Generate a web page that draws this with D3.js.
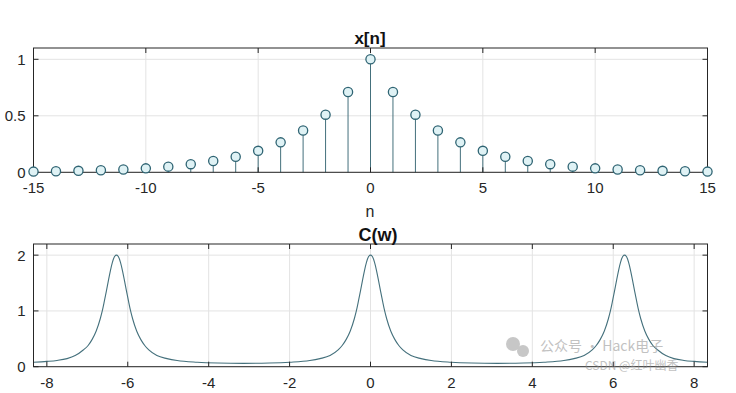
<!DOCTYPE html>
<html><head><meta charset="utf-8">
<script src="https://cdn.jsdelivr.net/npm/d3@7"></script>
<style>
html,body{margin:0;padding:0;background:#fff;}
svg{display:block;font-family:"Liberation Sans",Arial,Helvetica,sans-serif;}
</style></head>
<body>
<svg id="c" width="736" height="393"></svg>
<script>
// ---- data ----
const nValues = [-15,-14,-13,-12,-11,-10,-9,-8,-7,-6,-5,-4,-3,-2,-1,0,1,2,3,4,5,6,7,8,9,10,11,12,13,14,15];
const xValues = [0.006,0.009,0.013,0.018,0.025,0.035,0.05,0.072,0.10,0.137,0.19,0.265,0.37,0.51,0.71,1.0,0.71,0.51,0.37,0.265,0.19,0.137,0.10,0.072,0.05,0.035,0.025,0.018,0.013,0.009,0.006];
const topXTicks = [-15,-10,-5,0,5,10,15];
const topYTicks = [0,0.5,1];
const topYTickLabels = ["0","0.5","1"];

const wValues = [-8.33,-8.0,-7.75,-7.5,-7.3,-7.1,-6.98,-6.88,-6.78,-6.68,-6.63,-6.58,-6.53,-6.48,-6.43,-6.38,-6.33,-6.28,
  -6.23,-6.18,-6.13,-6.08,-6.03,-5.98,-5.93,-5.88,-5.78,-5.68,-5.58,-5.48,-5.28,-5.03,-4.78,-4.28,-3.78,-3.14,-2.5,-2.0,-1.5,-1.25,-1.0,-0.8,-0.7,-0.6,-0.5,-0.4,-0.35,-0.3,-0.25,-0.2,-0.15,-0.1,-0.05,0,
  0.05,0.1,0.15,0.2,0.25,0.3,0.35,0.4,0.5,0.6,0.7,0.8,1.0,1.25,1.5,2.0,2.5,3.14,3.78,4.28,4.78,5.03,5.28,5.48,5.58,5.68,5.78,5.88,5.93,5.98,6.03,6.08,6.13,6.18,6.23,6.28,
  6.33,6.38,6.43,6.48,6.53,6.58,6.63,6.68,6.78,6.88,6.98,7.1,7.3,7.5,7.75,8.0,8.33];
const cValues = [0.08,0.095,0.112,0.145,0.20,0.30,0.38,0.49,0.64,0.86,1.00,1.17,1.35,1.54,1.72,1.87,1.97,2.00,
  1.97,1.87,1.72,1.54,1.35,1.17,1.00,0.86,0.64,0.49,0.38,0.30,0.20,0.145,0.11,0.08,0.066,0.06,0.066,0.08,0.11,0.145,0.20,0.30,0.38,0.49,0.64,0.86,1.00,1.17,1.35,1.54,1.72,1.87,1.97,2.00,
  1.97,1.87,1.72,1.54,1.35,1.17,1.00,0.86,0.64,0.49,0.38,0.30,0.20,0.145,0.11,0.08,0.066,0.06,0.066,0.08,0.11,0.145,0.20,0.30,0.38,0.49,0.64,0.86,1.00,1.17,1.35,1.54,1.72,1.87,1.97,2.00,
  1.97,1.87,1.72,1.54,1.35,1.17,1.00,0.86,0.64,0.49,0.38,0.30,0.20,0.145,0.112,0.095,0.08];
const botXTicks = [-8,-6,-4,-2,0,2,4,6,8];
const botYTicks = [0,1,2];

const topTitle = "x[n]";
const topXLabel = "n";
const botTitle = "C(w)";
const watermark1 = "公众号 · Hack电子";
const watermark2 = "CSDN @红叶幽香";

// ---- drawing ----
const svg = d3.select("#c");
const L = 33.5, R = 707.5;
const axisColor = "#262626", gridColor = "#e3e3e3";
const lineColor = "#44707c";
const tickLen = 5;

function frame(g, x, y, xTicks, yTicks, top, bottom) {
  g.append("g").selectAll("line").data(xTicks).join("line")
    .attr("x1", d => x(d)).attr("x2", d => x(d)).attr("y1", top).attr("y2", bottom)
    .attr("stroke", gridColor).attr("stroke-width", 1);
  g.append("g").selectAll("line").data(yTicks).join("line")
    .attr("x1", L).attr("x2", R).attr("y1", d => y(d)).attr("y2", d => y(d))
    .attr("stroke", gridColor).attr("stroke-width", 1);
}
function box(g, x, y, xTicks, yTicks, yLabels, top, bottom) {
  g.append("rect").attr("x", L).attr("y", top).attr("width", R - L).attr("height", bottom - top)
    .attr("fill", "none").attr("stroke", axisColor).attr("stroke-width", 1);
  const tk = g.append("g").attr("stroke", axisColor).attr("stroke-width", 1);
  xTicks.forEach(d => {
    tk.append("line").attr("x1", x(d)).attr("x2", x(d)).attr("y1", bottom).attr("y2", bottom - tickLen);
    tk.append("line").attr("x1", x(d)).attr("x2", x(d)).attr("y1", top).attr("y2", top + tickLen);
  });
  yTicks.forEach(d => {
    tk.append("line").attr("x1", L).attr("x2", L + tickLen).attr("y1", y(d)).attr("y2", y(d));
    tk.append("line").attr("x1", R).attr("x2", R - tickLen).attr("y1", y(d)).attr("y2", y(d));
  });
  g.append("g").selectAll("text").data(xTicks).join("text")
    .attr("x", d => x(d)).attr("y", bottom + 21).attr("text-anchor", "middle")
    .attr("font-size", 15).attr("fill", "#262626").text(d => d);
  g.append("g").selectAll("text").data(yTicks).join("text")
    .attr("x", L - 8).attr("y", d => y(d) + 5.5).attr("text-anchor", "end")
    .attr("font-size", 15).attr("fill", "#262626").text((d, i) => yLabels[i]);
}

// top subplot
const tTop = 48, tBot = 172.3;
const x1 = d3.scaleLinear().domain([-15, 15]).range([L, R]);
const y1 = d3.scaleLinear().domain([0, 1.1]).range([tBot, tTop]);
const g1 = svg.append("g");
frame(g1, x1, y1, topXTicks, topYTicks, tTop, tBot);
const pts = nValues.map((n, i) => ({n, v: xValues[i]}));
g1.append("g").selectAll("line").data(pts).join("line")
  .attr("x1", d => x1(d.n)).attr("x2", d => x1(d.n))
  .attr("y1", y1(0)).attr("y2", d => y1(d.v))
  .attr("stroke", lineColor).attr("stroke-width", 1);
box(g1, x1, y1, topXTicks, topYTicks, topYTickLabels, tTop, tBot);
g1.append("g").selectAll("circle").data(pts).join("circle")
  .attr("cx", d => x1(d.n)).attr("cy", d => y1(d.v)).attr("r", 4.6)
  .attr("fill", "#dff2f5").attr("stroke", "#2f6473").attr("stroke-width", 1.3);
g1.append("text").attr("x", 370).attr("y", 44).attr("text-anchor", "middle")
  .attr("font-size", 17).attr("font-weight", "bold").attr("fill", "#111").text(topTitle);
g1.append("text").attr("x", 370).attr("y", 217).attr("text-anchor", "middle")
  .attr("font-size", 16).attr("fill", "#262626").text(topXLabel);

// bottom subplot
const bTop = 244, bBot = 366.7;
const x2 = d3.scaleLinear().domain([-8.33, 8.33]).range([L, R]);
const y2 = d3.scaleLinear().domain([0, 2.2]).range([bBot, bTop]);
const g2 = svg.append("g");
frame(g2, x2, y2, botXTicks, botYTicks, bTop, bBot);
const curve = wValues.map((w, i) => [w, cValues[i]]);
g2.append("path").datum(curve)
  .attr("d", d3.line().x(d => x2(d[0])).y(d => y2(d[1])).curve(d3.curveMonotoneX))
  .attr("fill", "none").attr("stroke", lineColor).attr("stroke-width", 1.1);
box(g2, x2, y2, botXTicks, botYTicks, botYTicks.map(String), bTop, bBot);
g2.append("text").attr("x", 378).attr("y", 241).attr("text-anchor", "middle")
  .attr("font-size", 18).attr("font-weight", "bold").attr("fill", "#111").text(botTitle);

// watermark
const wm = svg.append("g").attr("opacity", 0.55);
wm.append("circle").attr("cx", 513).attr("cy", 344).attr("r", 7).attr("fill", "#9a9a9a");
wm.append("circle").attr("cx", 523).attr("cy", 351).attr("r", 6).attr("fill", "#9a9a9a");
wm.append("text").attr("x", 540).attr("y", 351).attr("font-size", 14)
  .attr("font-family", "Noto Sans CJK SC").attr("fill", "#8f8f8f").text(watermark1);
wm.append("text").attr("x", 585).attr("y", 370).attr("font-size", 12)
  .attr("font-family", "Noto Sans CJK SC").attr("fill", "#8f8f8f").text(watermark2);
</script>
</body></html>
